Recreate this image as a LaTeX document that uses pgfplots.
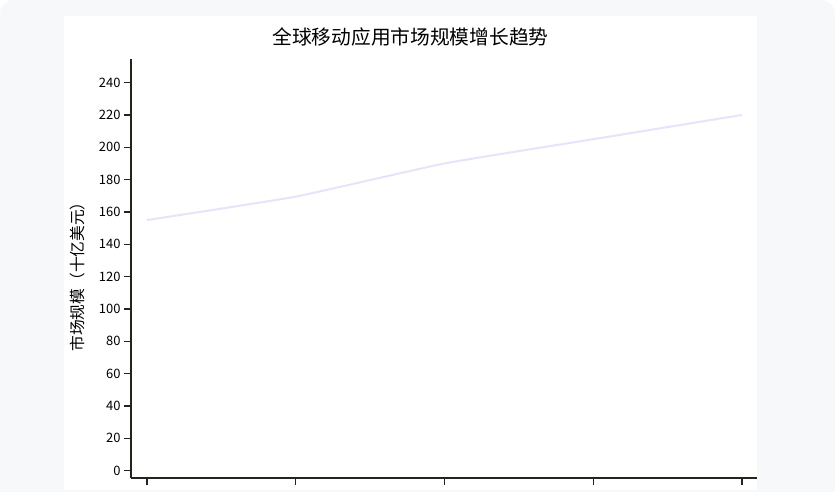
\documentclass[border=0pt]{standalone}
\usepackage{fontspec}
\setmainfont{Noto Sans CJK SC}
\usepackage{pgfplots}
\pgfplotsset{compat=1.18}
\definecolor{cardbg}{HTML}{F7F8FA}
\definecolor{axisdark}{HTML}{24241C}
\definecolor{lineclr}{HTML}{E6E4FA}
\begin{document}
\begin{tikzpicture}
  \useasboundingbox (0,0) rectangle (835bp,492bp);
  \fill[white] (0,0) rectangle (835bp,492bp);
  \fill[cardbg, rounded corners=14bp] (0,-20bp) rectangle (835bp,492bp);
  \fill[white] (64bp,2bp) rectangle (757bp,476bp);
  \node[font=\fontsize{19.8}{22}\selectfont] at (410.5bp,455bp) {全球移动应用市场规模增长趋势};
  \node[rotate=90, font=\fontsize{15.8}{18}\selectfont] at (78bp,219bp) {市场规模（十亿美元）};
  \begin{axis}[
    at={(131bp,14bp)}, anchor=south west,
    scale only axis,
    width=626bp, height=419bp,
    xmin=-0.1076, xmax=4.101,
    ymin=-4.5, ymax=254.6,
    axis lines=left,
    axis line style={-, axisdark, line width=1.6bp},
    xtick={0,1,2,3,4},
    xticklabels={},
    ytick={0,20,...,240},
    tick align=outside,
    tick style={axisdark, line width=1.4bp},
    major tick length=7bp,
    tick label style={font=\fontsize{13}{15}\selectfont},
    /pgf/number format/assume math mode=true,
    yticklabel style={xshift=0bp},
    clip=false,
  ]
    \addplot[lineclr, line width=2bp, smooth, tension=0.25]
      coordinates {(0,155) (1,169.5) (2,190) (3,205) (4,220)};
  \end{axis}
\end{tikzpicture}
\end{document}
